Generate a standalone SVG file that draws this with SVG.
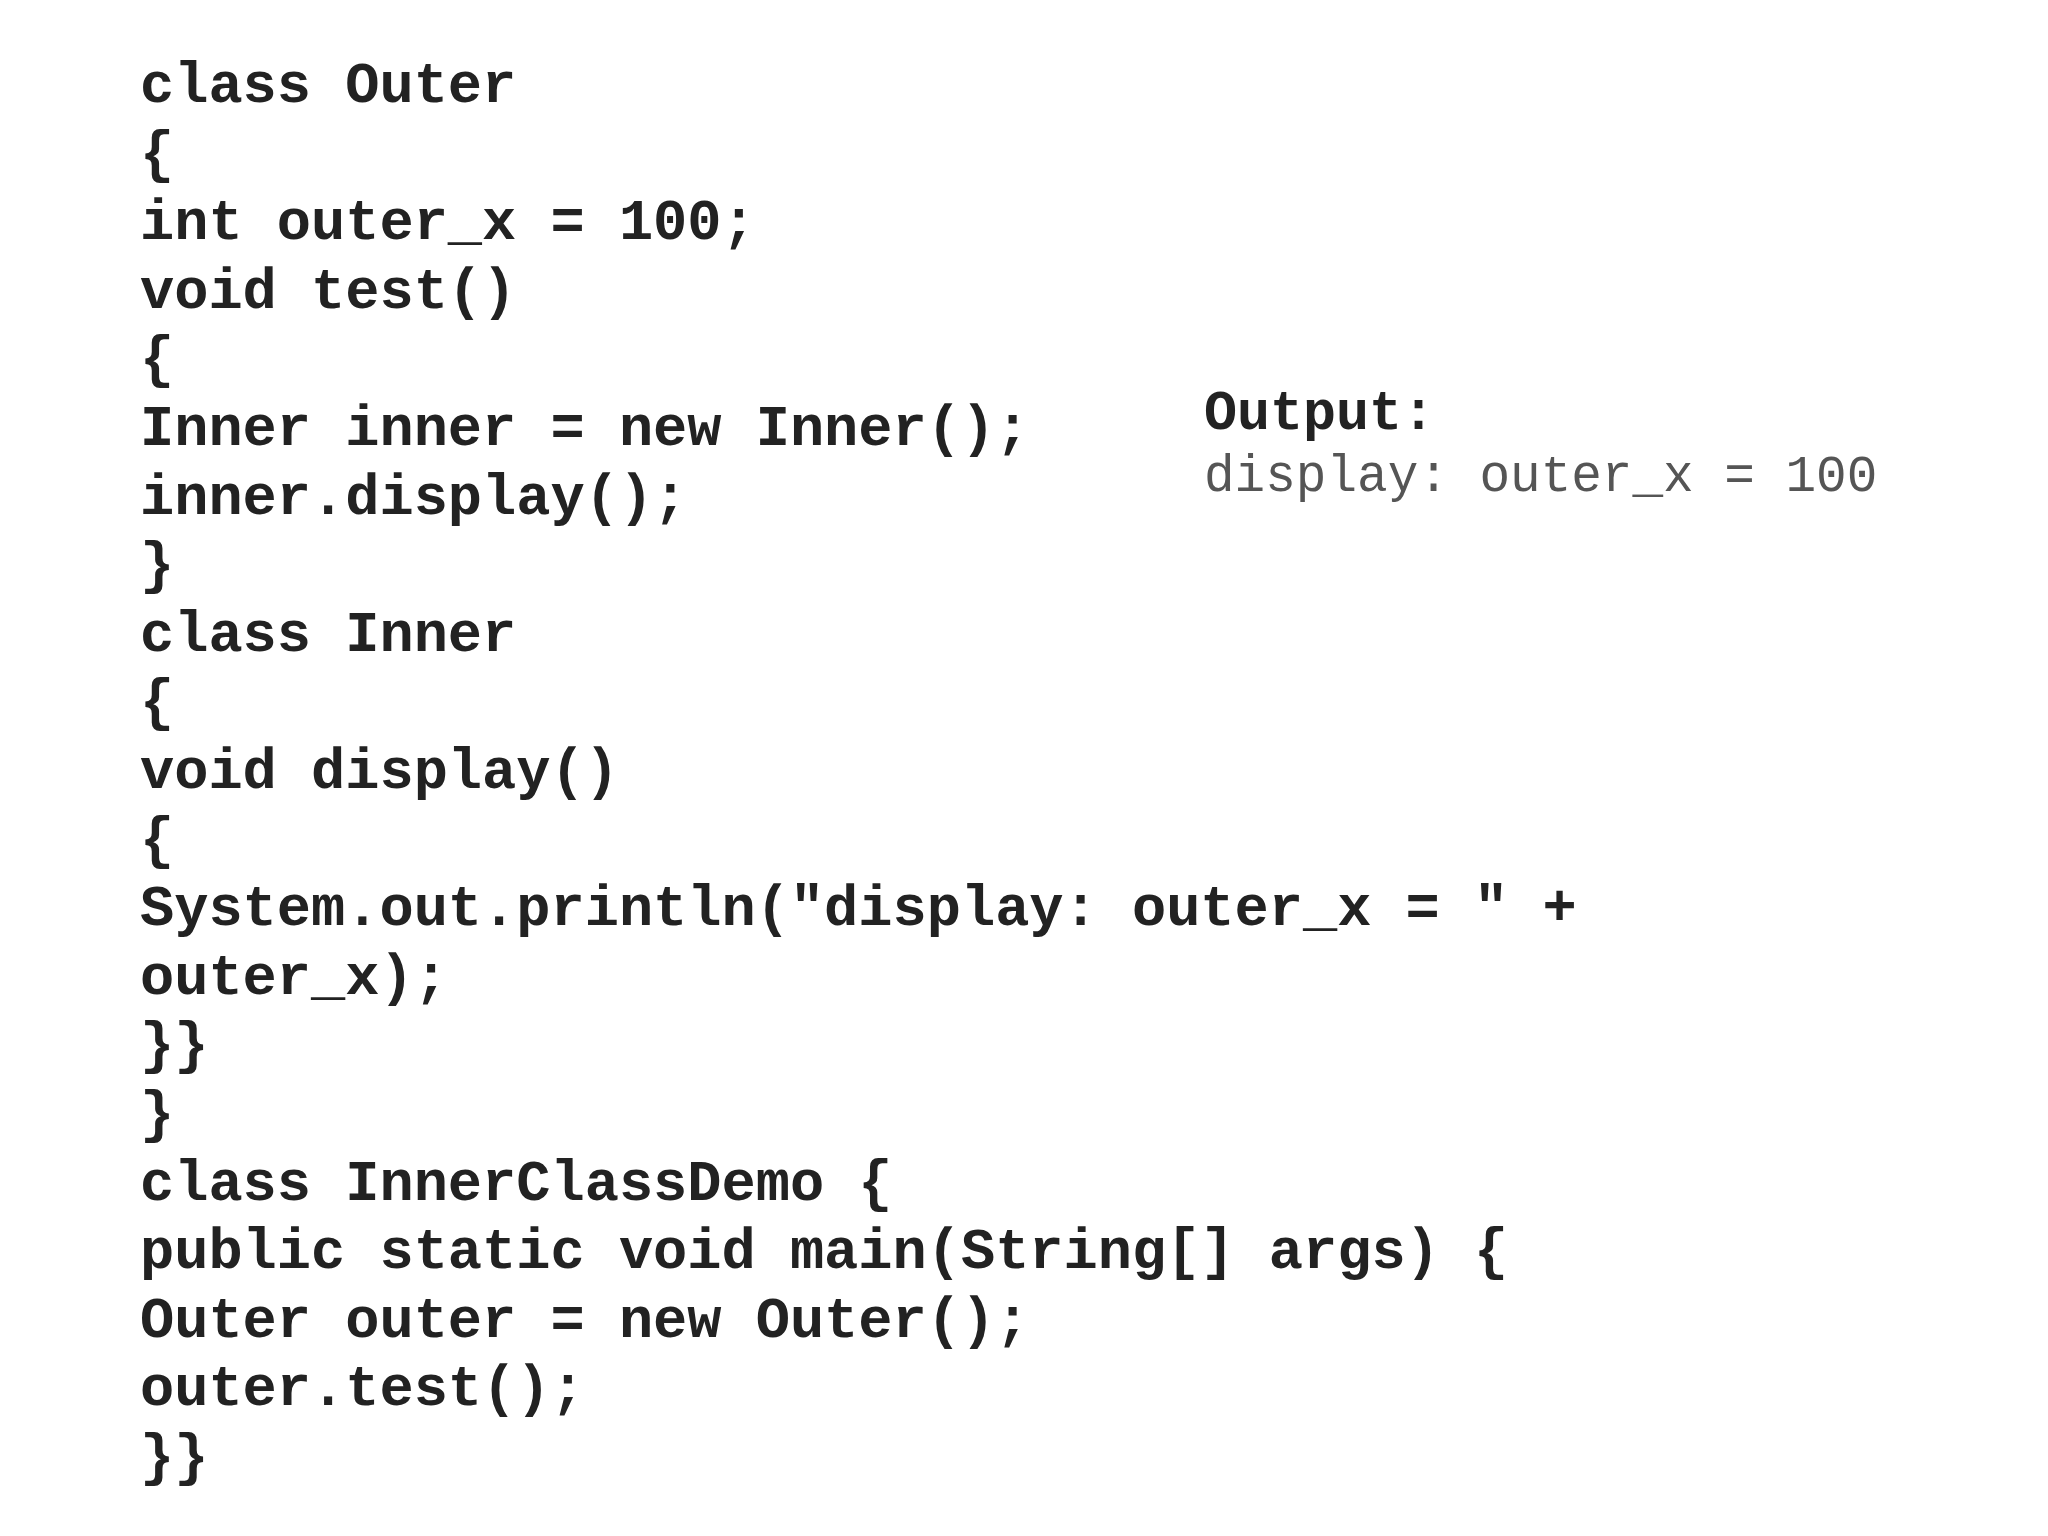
<svg xmlns="http://www.w3.org/2000/svg" width="2048" height="1536" viewBox="0 0 2048 1536">
<style>
.c{font-family:"Liberation Mono","Courier New",monospace;font-weight:bold;font-size:57px;fill:#222;white-space:pre}
.o{font-family:"Liberation Mono","Courier New",monospace;font-size:51px;fill:#555;white-space:pre}
</style>
<rect width="2048" height="1536" fill="#fff"/>
<g id="code" class="c">
<text x="140" y="102">class Outer</text>
<text x="140" y="171">{</text>
<text x="140" y="239">int outer_x = 100;</text>
<text x="140" y="308">void test()</text>
<text x="140" y="376">{</text>
<text x="140" y="445">Inner inner = new Inner();</text>
<text x="140" y="514">inner.display();</text>
<text x="140" y="582">}</text>
<text x="140" y="651">class Inner</text>
<text x="140" y="719">{</text>
<text x="140" y="788">void display()</text>
<text x="140" y="857">{</text>
<text x="140" y="925">System.out.println("display: outer_x = " +</text>
<text x="140" y="994">outer_x);</text>
<text x="140" y="1062">}}</text>
<text x="140" y="1131">}</text>
<text x="140" y="1200">class InnerClassDemo {</text>
<text x="140" y="1268">public static void main(String[] args) {</text>
<text x="140" y="1337">Outer outer = new Outer();</text>
<text x="140" y="1405">outer.test();</text>
<text x="140" y="1474">}}</text>
</g>
<g id="output">
<text class="c" x="1204" y="429" style="font-size:55px">Output:</text>
<text class="o" x="1204" y="491">display: outer_x = 100</text>
</g>
</svg>
